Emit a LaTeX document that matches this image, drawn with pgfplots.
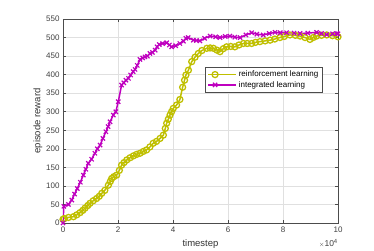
\documentclass[border=0pt]{standalone}
\usepackage{pgfplots}
\pgfplotsset{compat=1.18}
\usepackage{fontspec}
\setmainfont{Liberation Sans}
\definecolor{yel}{rgb}{0.75,0.75,0}
\definecolor{mag}{rgb}{0.75,0,0.75}
\definecolor{axgray}{rgb}{0.3,0.3,0.3}
\begin{document}
\begin{tikzpicture}
\begin{axis}[
  scale only axis, width=275pt, height=204pt,
  xmin=0, xmax=10, ymin=0, ymax=550,
  xtick={0,2,4,6,8,10}, ytick={0,50,...,550},
  grid=major, major grid style={color=black!12, line width=0.5pt},
  axis line style={color=axgray, line width=0.6pt},
  tick style={color=axgray, line width=0.5pt},
  tick align=inside, ticks=major, major tick length=3pt,
  xtick pos=both, ytick pos=both,
  /pgf/number format/assume math mode=true,
  ticklabel style={font=\fontsize{8}{9}\selectfont, text=black!75},
  xlabel={timestep}, ylabel={episode reward},
  label style={font=\fontsize{9.5}{11}\selectfont, text=black!80},
  xlabel style={yshift=-1pt},
  ylabel style={yshift=-3pt},
  legend style={at={(0.944,0.766)}, anchor=north east, draw=axgray, fill=white,
    font=\fontsize{8}{9.5}\selectfont, row sep=-1pt, inner sep=2pt},
  legend cell align=left,
  legend image code/.code={\draw[#1] (0cm,0cm) -- (0.5*28pt,0cm) plot coordinates {(0.25*28pt,0cm)} -- (28pt,0cm);},
]
\addplot[yel, line width=1.5pt, mark=o, mark size=3pt, mark options={line width=1.3pt}] coordinates {
(0,10) (0.05,12) (0.2,15) (0.38,17) (0.5,22) (0.62,28) (0.72,34) (0.8,40) (0.9,47) (0.98,53)
(1.1,60) (1.22,66) (1.32,72) (1.41,80) (1.52,88) (1.65,102) (1.72,112) (1.77,120) (1.85,125) (1.95,129)
(2.05,142) (2.13,156) (2.22,163) (2.32,170) (2.44,176) (2.56,181) (2.68,185) (2.8,188) (2.92,193) (3.04,197)
(3.16,205) (3.28,215) (3.4,220) (3.53,228) (3.65,237) (3.72,255) (3.77,269) (3.83,280) (3.89,291) (3.95,300)
(4.01,309) (4.13,318) (4.25,333) (4.35,366) (4.42,385) (4.47,399) (4.56,412) (4.68,435) (4.8,447) (4.92,457)
(5.05,465) (5.23,471) (5.35,472) (5.47,471) (5.6,466) (5.71,462) (5.83,470) (5.95,475) (6.1,476) (6.25,475)
(6.4,480) (6.56,484) (6.7,484) (6.86,484) (7.0,487) (7.16,489) (7.35,491) (7.53,493) (7.7,496) (7.89,500)
(8.05,503) (8.25,507) (8.45,506) (8.62,504) (8.8,500) (8.98,495) (9.1,500) (9.22,504) (9.4,506) (9.59,507)
(9.8,505) (10,502)
};
\addlegendentry{reinforcement learning}
\addplot[mag, line width=1.5pt, mark=x, mark size=3pt, mark options={line width=1.2pt}] coordinates {
(0,0) (0.03,45) (0.2,50) (0.32,62) (0.42,78) (0.52,93) (0.63,110) (0.74,129) (0.83,145) (0.92,161)
(1.04,172) (1.16,188) (1.25,200) (1.35,210) (1.45,228) (1.56,246) (1.64,260) (1.71,273) (1.83,291) (1.92,300)
(2.01,327) (2.13,372) (2.21,378) (2.29,385) (2.38,390) (2.46,399) (2.55,408) (2.62,414) (2.7,425) (2.8,441)
(2.9,445) (2.98,448) (3.07,450) (3.16,457) (3.25,460) (3.35,466) (3.42,475) (3.5,481) (3.62,484) (3.77,486)
(3.87,480) (3.95,475) (4.1,478) (4.25,484) (4.38,490) (4.47,498) (4.55,500) (4.74,493) (4.85,492) (4.98,491)
(5.15,498) (5.35,504) (5.55,502) (5.71,500) (5.9,503) (6.07,504) (6.25,501) (6.44,500) (6.65,507) (6.86,513)
(7.05,509) (7.28,507) (7.5,511) (7.71,514) (7.9,513) (8.13,513) (8.4,512) (8.62,511) (8.9,512) (9.22,514)
(9.4,511) (9.59,508) (9.8,510) (9.95,511) (10,510)
};
\addlegendentry{integrated learning}
\end{axis}
\node[anchor=north east, font=\fontsize{8.5}{9}\selectfont, text=black!75, inner sep=0pt] at (275pt,-16pt) {{\fontsize{6}{7}\selectfont$\times$}10\textsuperscript{4}};
\pgfresetboundingbox
\path (-63pt,-28pt) rectangle (311pt,223pt);
\end{tikzpicture}
\end{document}
